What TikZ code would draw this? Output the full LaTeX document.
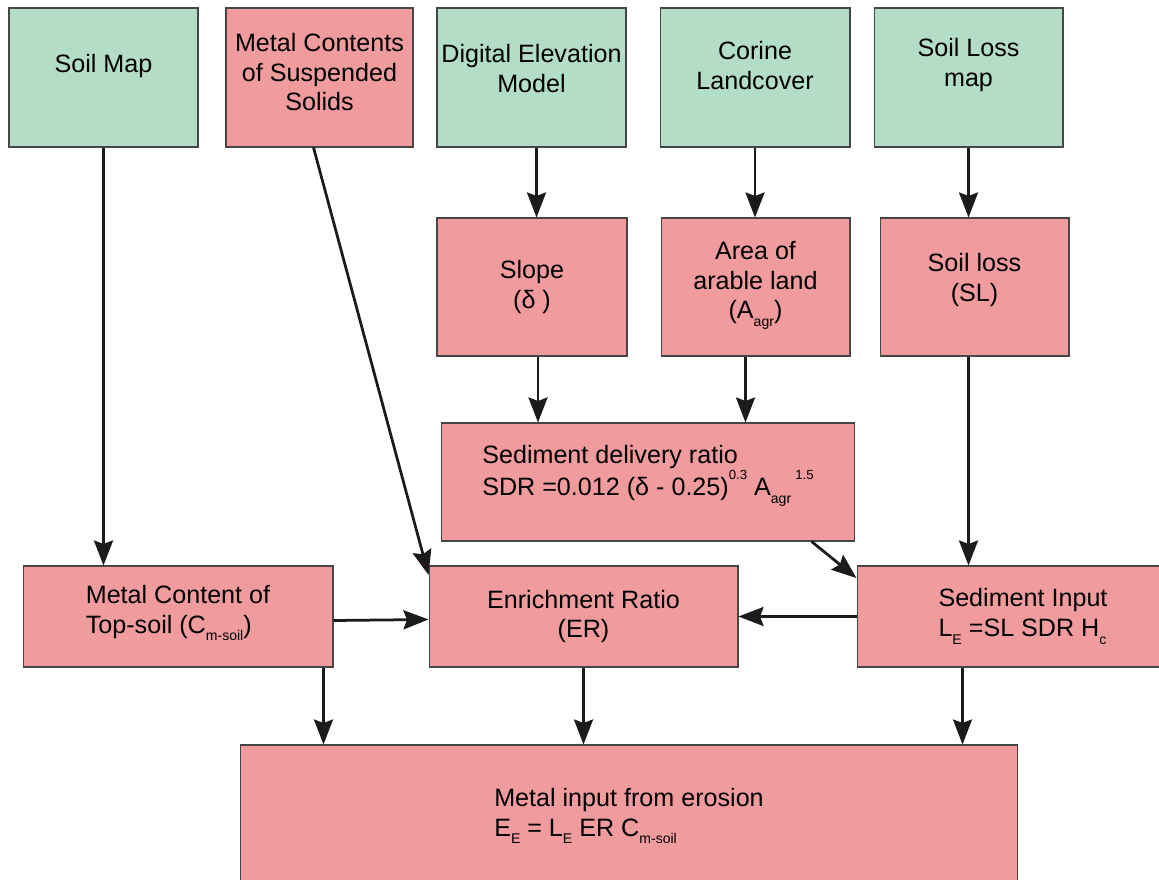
\documentclass[tikz,border=0pt]{standalone}
\usepackage{fontspec}
\setmainfont{Liberation Sans}
\usepackage{tikz}
\usetikzlibrary{arrows.meta, calc}
\definecolor{mapgreen}{RGB}{180,221,200}
\definecolor{calcred}{RGB}{240,155,157}
\definecolor{edgegray}{RGB}{70,70,70}
\definecolor{arrowblack}{RGB}{28,26,26}
\tikzset{
  mapbox/.style={draw=edgegray, fill=mapgreen, line width=0.6pt, align=center, inner sep=0pt, minimum width=3.78cm, minimum height=2.78cm},
  calcbox/.style={mapbox, fill=calcred}
}
\newcommand{\lowtxt}[1]{\raisebox{-0.55ex}{\fontsize{8}{8}\selectfont #1}}
\newcommand{\hightxt}[1]{\raisebox{1.2ex}{\fontsize{7.5}{8}\selectfont #1}}

\begin{document}
\begin{tikzpicture}[x=0.02cm, y=-0.02cm, font=\fontsize{14.3}{17}\selectfont,
  >={Stealth[length=0.5cm, width=0.38cm, inset=0.07cm]}]
\useasboundingbox (0,0) rectangle (1159,879);

\node[mapbox, text depth=0.55cm] (soilmap) at (103.5,77.5) {Soil Map};
\node[calcbox, minimum width=3.74cm, text depth=0.22cm] (mcss) at (319.5,77.5) {Metal Contents\\of Suspended\\Solids};
\node[mapbox, text depth=0.38cm] (dem) at (531.5,77.5) {Digital Elevation\\Model};
\node[mapbox, minimum width=3.80cm, text depth=0.5cm] (corine) at (755,77.5) {Corine\\Landcover};
\node[mapbox, text depth=0.6cm] (lossmap) at (968.5,77.5) {Soil Loss\\map};

\node[calcbox, minimum width=3.80cm, minimum height=2.76cm] (slope) at (532,287) {Slope\\(δ )};
\node[calcbox, minimum height=2.76cm, text depth=0.28cm] (arable) at (755.5,287) {Area of\\arable land\\(A\lowtxt{agr})};
\node[calcbox, minimum height=2.76cm, text depth=0.4cm] (soilloss) at (974.5,287) {Soil loss\\(SL)};

\node[calcbox, minimum width=8.28cm, minimum height=2.36cm, align=left, text depth=0.45cm] (sdr) at (648,482)
  {Sediment delivery ratio\\SDR =0.012 (δ - 0.25)\hightxt{0.3} A\lowtxt{agr}\,\hightxt{1.5}};

\node[calcbox, minimum width=6.20cm, minimum height=2.02cm, align=left, text depth=0.3cm] (topsoil) at (178,616.5) {Metal Content of\\Top-soil (C\lowtxt{m-soil})};
\node[calcbox, minimum width=6.18cm, minimum height=2.02cm] (ratio) at (583.5,616.5) {Enrichment Ratio\\(ER)};
\node[calcbox, minimum width=6.64cm, minimum height=2.02cm, align=left] (sedinput) at (1023,616.5) {Sediment Input\\L\lowtxt{E} =SL SDR H\lowtxt{c}};

\node[calcbox, minimum width=15.56cm, minimum height=2.84cm, align=left] (erosion) at (629,816) {Metal input from erosion\\E\lowtxt{E} = L\lowtxt{E} ER C\lowtxt{m-soil}};

\begin{scope}[line width=0.055cm, draw=arrowblack]
\draw[->] (soilmap.south) -- (soilmap.south |- topsoil.north);
\draw[->] ($(mcss.south)+(-6,0)$) -- (ratio.165);
\draw[->] ($(dem.south)+(5,0)$) -- ($(dem.south |- slope.north)+(5,0)$);
\draw[->] (corine.south) -- (corine.south |- arable.north);
\draw[->] (lossmap.south) -- (lossmap.south |- soilloss.north);
\draw[->] ($(slope.south)+(6,0)$) -- ($(slope.south |- sdr.north)+(6,0)$);
\draw[->] ($(arable.south)+(-10,0)$) -- ($(arable.south |- sdr.north)+(-10,0)$);
\draw[->] ($(soilloss.south)+(-6,0)$) -- ($(soilloss.south |- sedinput.north)+(-6,0)$);
\draw[->] (sdr.-20.5) -- (sedinput.167);
\draw[->] ($(topsoil.east)+(0,4)$) -- ($(ratio.west)+(0,3)$);
\draw[->] (sedinput.west) -- (ratio.east);
\draw[->] ($(topsoil.south east)+(-10,0)$) -- ($(topsoil.south east |- erosion.north)+(-10,0)$);
\draw[->] (ratio.south) -- (ratio.south |- erosion.north);
\draw[->] ($(sedinput.south west)+(106,0)$) -- ($(sedinput.south west |- erosion.north)+(106,0)$);
\end{scope}
\end{tikzpicture}
\end{document}
